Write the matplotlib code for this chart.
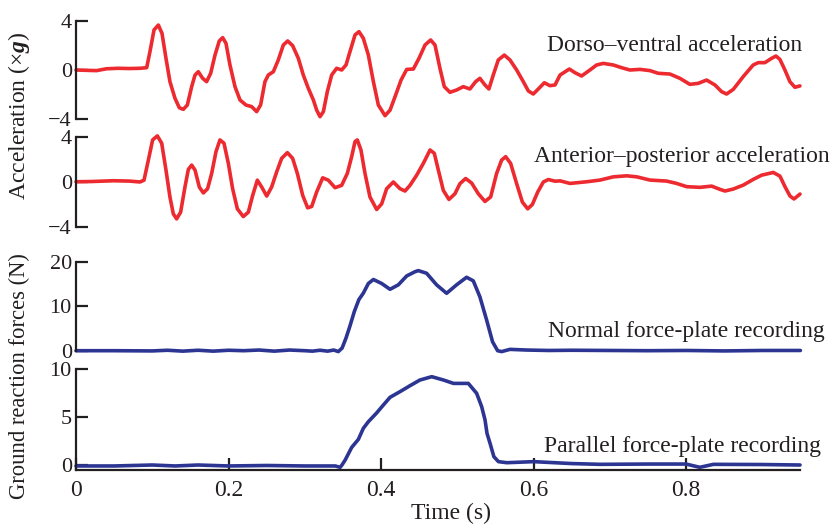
import matplotlib
matplotlib.use("Agg")
import matplotlib.pyplot as plt

plt.rcParams["font.family"] = ["Liberation Serif", "DejaVu Serif"]
plt.rcParams["mathtext.fontset"] = "custom"
plt.rcParams["mathtext.rm"] = "Liberation Serif"
plt.rcParams["mathtext.bf"] = "Liberation Serif:bold:italic"

# --------------------------------------------------
# DATA
# --------------------------------------------------
t_dv = [0, 0.015, 0.027, 0.04, 0.055, 0.07, 0.084, 0.0927, 0.097, 0.1023, 0.108,
        0.1128, 0.118, 0.1232, 0.1298, 0.1355, 0.1407, 0.146, 0.1517, 0.1561,
        0.1604, 0.1661, 0.1713, 0.1766, 0.1823, 0.1879, 0.1923, 0.1967, 0.2019,
        0.2085, 0.2151, 0.2229, 0.2304, 0.2369, 0.2421, 0.2478, 0.2522, 0.2588,
        0.2653, 0.2719, 0.2776, 0.2841, 0.2916, 0.2981, 0.3047, 0.3113, 0.3156,
        0.32, 0.3244, 0.3296, 0.3353, 0.3418, 0.3484, 0.3541, 0.3593, 0.3659,
        0.3711, 0.3768, 0.3834, 0.39, 0.3965, 0.4053, 0.4119, 0.4184, 0.4263,
        0.4337, 0.4424, 0.4498, 0.4577, 0.4651, 0.4708, 0.4773, 0.483, 0.4904,
        0.4992, 0.5079, 0.5166, 0.5241, 0.5297, 0.5363, 0.5415, 0.5472, 0.5538,
        0.5617, 0.5691, 0.5779, 0.5866, 0.5932, 0.5997, 0.6063, 0.6142, 0.6216,
        0.6282, 0.6348, 0.647, 0.6544, 0.663, 0.674, 0.6828, 0.6915, 0.7046,
        0.7155, 0.7264, 0.7396, 0.7527, 0.7636, 0.7789, 0.792, 0.805, 0.816,
        0.827, 0.8379, 0.8467, 0.8532, 0.862, 0.875, 0.8881, 0.8947, 0.9034,
        0.9122, 0.9179, 0.9231, 0.9297, 0.9362, 0.9428, 0.9494]
a_dv = [0, -0.03, -0.05, 0.1, 0.14, 0.12, 0.14, 0.19, 1.5, 3.27, 3.67,
        2.99, 0.95, -0.95, -2.31, -3.08, -3.21, -2.86, -1.36, -0.41,
        -0.14, -0.68, -0.95, -0.27, 1.22, 2.37, 2.64, 2.18, 0.41,
        -1.36, -2.45, -2.86, -2.99, -3.4, -2.86, -0.95, -0.41, -0.14,
        0.82, 2.04, 2.37, 1.99, 0.95, -0.41, -1.5, -2.45, -3.27,
        -3.81, -3.4, -1.77, -0.41, 0.14, 0.0, 0.41, 1.5, 2.86,
        3.13, 2.59, 1.22, -0.95, -2.86, -3.73, -3.27, -2.18, -0.82,
        0.05, 0.08, 0.95, 2.04, 2.45, 2.04, 0.14, -1.36, -1.82,
        -1.63, -1.36, -1.55, -0.95, -0.68, -1.22, -1.55, -0.41, 0.82,
        1.22, 0.82, 0.0, -0.95, -1.71, -1.96, -1.55, -1.04, -1.28,
        -1.22, -0.41, 0.08, -0.22, -0.49, 0.0, 0.41, 0.54, 0.41,
        0.19, 0.0, 0.05, -0.05, -0.27, -0.33, -0.68, -1.17, -1.09,
        -0.82, -1.22, -1.77, -1.96, -1.58, -0.54, 0.41, 0.6, 0.6,
        0.95, 1.14, 0.87, 0.0, -0.95, -1.41, -1.3]

t_ap = [0, 0.02, 0.049, 0.07, 0.0839, 0.0892, 0.0949, 0.1005, 0.1067, 0.1124,
        0.118, 0.1232, 0.1276, 0.132, 0.1372, 0.1429, 0.1473, 0.1517, 0.1561,
        0.1617, 0.167, 0.1726, 0.1779, 0.1836, 0.1888, 0.1941, 0.1998, 0.2054,
        0.2116, 0.2194, 0.226, 0.2317, 0.2378, 0.2435, 0.2501, 0.2566, 0.2632,
        0.2697, 0.2772, 0.2841, 0.2903, 0.2973, 0.3038, 0.3091, 0.3156, 0.3235,
        0.3309, 0.3397, 0.3484, 0.3558, 0.3615, 0.3659, 0.3689, 0.3737, 0.379,
        0.3855, 0.3943, 0.4009, 0.4074, 0.4162, 0.4249, 0.4315, 0.438, 0.4468,
        0.4555, 0.4643, 0.4699, 0.4752, 0.4817, 0.4891, 0.497, 0.5035, 0.511,
        0.5188, 0.5276, 0.5363, 0.5438, 0.5516, 0.5582, 0.5635, 0.57, 0.5779,
        0.5854, 0.5924, 0.5985, 0.6055, 0.6129, 0.6195, 0.6282, 0.6348, 0.6479,
        0.6698, 0.6872, 0.7047, 0.7222, 0.7353, 0.7528, 0.7746, 0.7877, 0.8008,
        0.8183, 0.8336, 0.8445, 0.8511, 0.862, 0.8751, 0.8882, 0.8992, 0.9145,
        0.9232, 0.9298, 0.9363, 0.9416, 0.9495]
a_ap = [0, 0.02, 0.09, 0.06, -0.02, 0.14, 1.94, 3.74, 4.1, 3.44,
        1.04, -1.36, -2.87, -3.32, -2.72, -0.47, 1.1, 1.49, 1.04,
        -0.47, -1.0, -0.62, 0.74, 2.69, 3.74, 3.44, 1.64, -0.62,
        -2.42, -3.11, -2.72, -1.22, 0.14, -0.47, -1.28, -0.47, 0.89,
        2.09, 2.6, 2.09, 0.74, -1.22, -2.33, -2.21, -0.92, 0.35,
        0.14, -0.53, -0.32, 0.74, 2.24, 3.59, 3.74, 2.84, 0.74,
        -1.36, -2.48, -1.97, -0.62, -0.02, -0.62, -0.83, -0.32, 0.59,
        1.64, 2.84, 2.54, 1.04, -0.77, -1.58, -1.07, -0.17, 0.29,
        -0.11, -1.07, -1.76, -1.36, 0.74, 1.94, 2.24, 1.64, -0.17,
        -1.82, -2.42, -2.03, -0.92, -0.02, 0.2, 0.05, 0.08, -0.15,
        0.0, 0.15, 0.44, 0.53, 0.44, 0.15, 0.06, -0.15, -0.44,
        -0.5, -0.39, -0.68, -0.83, -0.65, -0.3, 0.21, 0.59, 0.83,
        0.5, -0.44, -1.27, -1.54, -1.1]

t_norm = [0, 0.05, 0.1, 0.12, 0.14, 0.16, 0.18, 0.2, 0.22, 0.24, 0.26, 0.28,
          0.30, 0.31, 0.32, 0.33, 0.338, 0.344, 0.349, 0.354, 0.359, 0.365,
          0.371, 0.3767, 0.3834, 0.390, 0.4009, 0.4118, 0.4227, 0.4337,
          0.4446, 0.4489, 0.4598, 0.4729, 0.486, 0.4991, 0.5122, 0.521,
          0.5297, 0.5385, 0.5463, 0.5529, 0.5582, 0.5691, 0.5909, 0.62,
          0.65, 0.7, 0.75, 0.8, 0.85, 0.9, 0.95]
f_norm = [0, 0, -0.05, 0.1, -0.1, 0.1, -0.1, 0.1, 0, 0.15, -0.1, 0.15,
          0, -0.1, 0.1, -0.1, 0.15, -0.2, 0.6, 2.8, 5.4, 8.8,
          11.5, 12.9, 15.1, 16.0, 15.1, 13.8, 14.8, 16.8,
          17.75, 18.0, 17.4, 14.8, 12.9, 14.8, 16.5, 15.7,
          12.1, 6.9, 2.0, 0.0, -0.2, 0.3, 0.15, 0.05,
          0.1, 0.05, 0, 0.05, -0.05, 0.05, 0.05]

t_par = [0, 0.05, 0.1, 0.13, 0.16, 0.2, 0.25, 0.3, 0.34, 0.3464, 0.3488, 0.353,
         0.3616, 0.3703, 0.3768, 0.3834, 0.394, 0.4031, 0.4118, 0.4249, 0.438,
         0.451, 0.4665, 0.482, 0.495, 0.5145, 0.5254, 0.532, 0.5364, 0.539,
         0.543, 0.548, 0.554, 0.565, 0.6, 0.65, 0.687, 0.75, 0.8, 0.818,
         0.836, 0.9, 0.9495]
f_par = [-0.1, -0.1, 0.0, -0.1, 0.0, -0.1, -0.05, -0.1, -0.1, -0.24, 0.0, 0.52,
         1.84, 2.67, 3.82, 4.51, 5.4, 6.25, 7.05, 7.64, 8.26,
         8.85, 9.2, 8.85, 8.5, 8.5, 7.47, 6.08, 4.7, 3.3,
         2.26, 0.87, 0.35, 0.24, 0.35, 0.15, 0.07, 0.1, 0.1, -0.24,
         0.07, 0.05, 0]

x_ticks = [0, 0.2, 0.4, 0.6, 0.8]
x_ticklabels = ["0", "0.2", "0.4", "0.6", "0.8"]

RED = "#ec2a30"
BLUE = "#2d3593"
INK = "#231f20"
FS = 17
TICK_FS = 16

W, H = 832, 525


def px_axes(fig, top_px, bottom_px):
    left, right = 76, 800.4
    return fig.add_axes([left / W, 1 - bottom_px / H, (right - left) / W,
                         (bottom_px - top_px) / H])


def style(ax, ylim, yticks, show_x=False):
    ax.set_xlim(0, 0.95)
    ax.set_ylim(*ylim)
    ax.set_yticks(yticks)
    for s in ["top", "right"]:
        ax.spines[s].set_visible(False)
    ax.spines["left"].set_color(INK)
    ax.spines["left"].set_linewidth(1.6)
    ax.tick_params(axis="y", direction="in", length=8.5, width=1.6,
                   color=INK, labelsize=TICK_FS, labelcolor=INK, pad=3)
    if show_x:
        ax.spines["bottom"].set_color(INK)
        ax.spines["bottom"].set_linewidth(1.6)
        ax.set_xticks(x_ticks)
        ax.set_xticklabels(x_ticklabels)
        ax.tick_params(axis="x", direction="in", length=8.5, width=1.6,
                       color=INK, labelsize=FS, labelcolor=INK, pad=7)
    else:
        ax.spines["bottom"].set_visible(False)
        ax.set_xticks([])
    ax.patch.set_alpha(0)


fig = plt.figure(figsize=(W / 100, H / 100), dpi=100)

line_kw = dict(lw=2.6, clip_on=False, solid_joinstyle="round",
               solid_capstyle="round")

ax1 = px_axes(fig, 21, 119)
ax1.plot(t_dv, a_dv, color=RED, **line_kw)
style(ax1, (-4, 4), [-4, 0, 4])

ax2 = px_axes(fig, 137, 226.5)
ax2.plot(t_ap, a_ap, color=RED, **line_kw)
style(ax2, (-4, 4), [-4, 0, 4])

ax3 = px_axes(fig, 261.7, 350.7)
ax3.plot(t_norm, f_norm, color=BLUE, **line_kw)
style(ax3, (0, 20), [0, 10, 20])

ax4 = px_axes(fig, 369, 470)
ax4.plot(t_par, f_par, color=BLUE, **line_kw)
style(ax4, (-0.52, 10), [0, 5, 10], show_x=True)

# panel captions
fig.text(802 / W, 1 - 50.7 / H, "Dorso\u2013ventral acceleration",
         ha="right", va="baseline", fontsize=FS, color=INK)
fig.text(830 / W, 1 - 161.7 / H, "Anterior\u2013posterior acceleration",
         ha="right", va="baseline", fontsize=FS, color=INK)
fig.text(825 / W, 1 - 337.3 / H, "Normal force-plate recording",
         ha="right", va="baseline", fontsize=FS, color=INK)
fig.text(821 / W, 1 - 451.7 / H, "Parallel force-plate recording",
         ha="right", va="baseline", fontsize=FS, color=INK)

# axis titles
fig.text(19 / W, 1 - 116 / H, "Acceleration (\u00d7$\\mathbf{g}$)",
         rotation=90, ha="center", va="center", fontsize=FS, color=INK)
fig.text(19 / W, 1 - 376 / H, "Ground reaction forces (N)",
         rotation=90, ha="center", va="center", fontsize=16.3, color=INK)
fig.text(451 / W, 1 - 519 / H, "Time (s)", ha="center", va="baseline",
         fontsize=FS, color=INK)

fig.savefig("out.png", dpi=100)
